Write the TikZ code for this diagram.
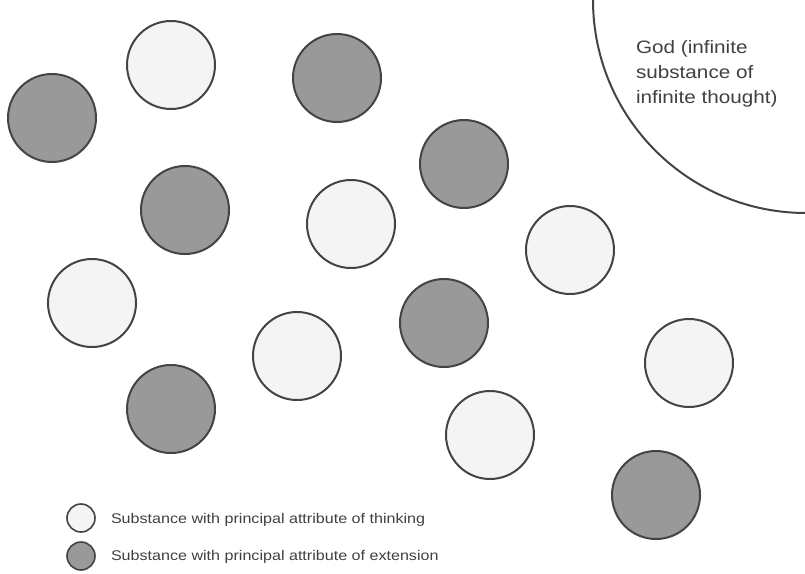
\documentclass[tikz,border=0pt]{standalone}
\usepackage{fontspec}
\setmainfont{Liberation Sans}[FakeStretch=1.15]
\usepackage{xcolor}
\usepackage{tikz}
\usetikzlibrary{positioning}

\definecolor{rim}{HTML}{444444}
\definecolor{mindfill}{HTML}{F4F4F4}
\definecolor{bodyfill}{HTML}{999999}

\begin{document}
\begin{tikzpicture}[x=1pt,y=-1pt,line width=2pt,
    thinking/.style={circle,draw=rim,fill=mindfill,minimum size=88pt,inner sep=0pt},
    extension/.style={circle,draw=rim,fill=bodyfill,minimum size=88pt,inner sep=0pt},
    keymark/.style={circle,draw=rim,line width=1.6pt,minimum size=28pt,inner sep=0pt},
    keytext/.style={anchor=west,inner sep=0pt,text=black!75,font=\fontsize{14}{16}\selectfont}]
    \useasboundingbox (0,0) rectangle (805,573);
    \clip (0,0) rectangle (805,573);

    % god
    \coordinate (god) at (806,0);
    \draw[rim] (god) circle[radius=213];
    \node[anchor=north west,inner sep=0pt,align=left,text=black!75,
          font=\fontsize{18}{25}\selectfont] (godtext) at (635,39)
        {God (infinite\\substance of\\infinite thought)};

    % substances
    \node[thinking] (t1) at (171,65) {};
    \node[extension] (e1) at (52,118) {};
    \node[extension] (e2) at (337,78) {};
    \node[extension] (e3) at (464,164) {};
    \node[extension] (e4) at (185,210) {};
    \node[thinking] (t2) at (351,224) {};
    \node[thinking] (t3) at (570,250) {};
    \node[thinking] (t4) at (92,303) {};
    \node[extension] (e5) at (444,323) {};
    \node[thinking] (t5) at (297,356) {};
    \node[thinking] (t6) at (689,363) {};
    \node[extension] (e6) at (171,409) {};
    \node[thinking] (t7) at (490,435) {};
    \node[extension] (e7) at (656,495) {};

    % legend
    \node[keymark,fill=mindfill] (kt) at (81,518) {};
    \node[keymark,fill=bodyfill] (ke) at (81,556) {};
    \node[keytext] (ktl) at (110,520) {Substance with principal attribute of thinking};
    \node[keytext] (kel) at (110,557) {Substance with principal attribute of extension};
\end{tikzpicture}
\end{document}
